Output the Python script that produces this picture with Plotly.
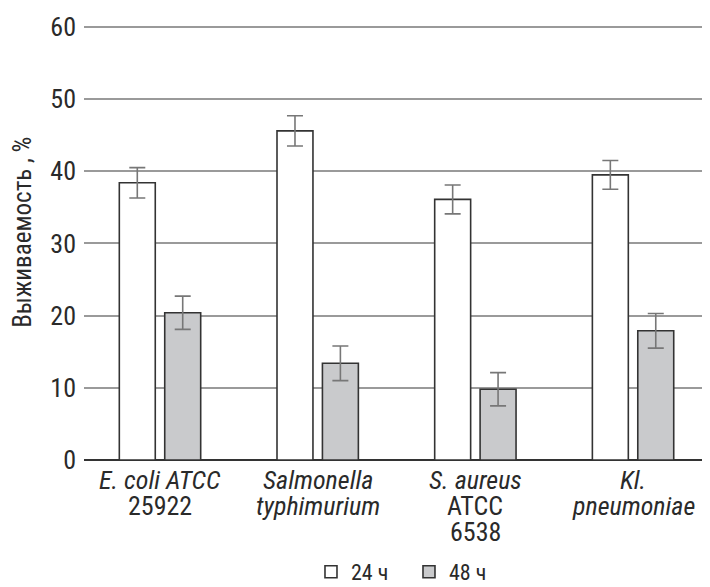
import plotly.graph_objects as go

categories = ["<i>E. coli ATCC</i><br>25922", "<i>Salmonella</i><br><i>typhimurium</i>",
              "<i>S. aureus</i><br>ATCC<br>6538", "<i>Kl.</i><br><i>pneumoniae</i>"]
vals_24 = [38.4, 45.6, 36.1, 39.5]
err_24 = [2.1, 2.1, 2.0, 2.0]
vals_48 = [20.4, 13.4, 9.8, 17.9]
err_48 = [2.3, 2.4, 2.3, 2.4]
y_ticks = [0, 10, 20, 30, 40, 50, 60]

FONT = "Roboto Condensed, Liberation Sans Narrow, Arial Narrow, sans-serif"
OUT = "#333333"
TXT = "#2a2a2a"

xs = list(range(len(categories)))

fig = go.Figure()
fig.add_trace(go.Bar(
    x=xs, y=vals_24, name="24 ч",
    width=0.228, offset=-0.258,
    marker=dict(color="white", line=dict(color=OUT, width=1.6)),
    error_y=dict(type="data", array=err_24, color="#777777", thickness=1.6, width=8),
))
fig.add_trace(go.Bar(
    x=xs, y=vals_48, name="48 ч",
    width=0.228, offset=0.03,
    marker=dict(color="#c9cacc", line=dict(color=OUT, width=1.6)),
    error_y=dict(type="data", array=err_48, color="#777777", thickness=1.6, width=8),
))

annotations = [dict(text="Выживаемость , %",
                    textangle=-90, xref="paper", yref="paper",
                    x=0, y=0.521, xanchor="center", yanchor="middle", xshift=-61,
                    showarrow=False, font=dict(size=25, color=TXT))]
# category labels, one annotation per line under each category
for i, lab in enumerate(categories):
    for j, line in enumerate(lab.split("<br>")):
        annotations.append(dict(text=line, x=i, xref="x", y=0, yref="paper",
                                xanchor="center", yanchor="middle",
                                yshift=-20 - 26 * j, showarrow=False,
                                font=dict(size=26, color=TXT)))

fig.update_layout(
    width=702, height=579,
    margin=dict(l=76, r=0, t=16, b=127, autoexpand=False),
    paper_bgcolor="white", plot_bgcolor="white",
    font=dict(family=FONT, size=24, color=TXT),
    showlegend=True,
    legend=dict(orientation="h", x=0.3626, xanchor="left", y=-0.2569, yanchor="middle",
                font=dict(size=22), entrywidth=53, entrywidthmode="pixels",
                traceorder="normal", itemclick=False),
    xaxis=dict(range=[-0.482, 3.488], tickvals=xs, showticklabels=False,
               showgrid=False, zeroline=False, showline=False, ticks=""),
    yaxis=dict(range=[0, 60.4], tickvals=y_ticks, showgrid=True, gridcolor="#9a9a9a",
               gridwidth=1.5, zeroline=True, zerolinecolor=OUT, zerolinewidth=2,
               showline=False, ticks="", ticklabelstandoff=7, tickfont=dict(size=26)),
    annotations=annotations,
)

fig.write_html("out.html")
